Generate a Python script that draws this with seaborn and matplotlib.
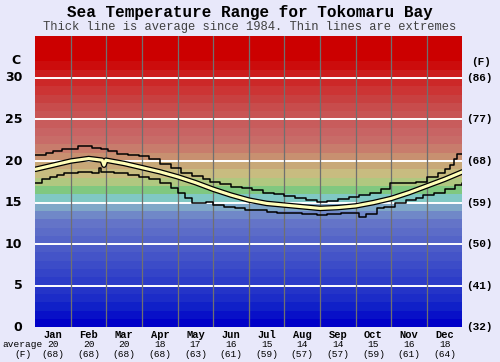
import numpy as np
import pandas as pd
import matplotlib
matplotlib.use("Agg")
import matplotlib.pyplot as plt
import matplotlib.transforms as mtransforms
import seaborn as sns

# ---------------- data ----------------
months = ["Jan", "Feb", "Mar", "Apr", "May", "Jun",
          "Jul", "Aug", "Sep", "Oct", "Nov", "Dec"]
month_avg_c = ["20", "20", "20", "18", "17", "16", "15", "14", "14", "15", "16", "18"]
month_avg_f = ["(68)", "(68)", "(68)", "(68)", "(63)", "(61)",
               "(59)", "(57)", "(57)", "(59)", "(61)", "(64)"]

c_ticks = [0, 5, 10, 15, 20, 25, 30]
f_labels = ["(32)", "(41)", "(50)", "(59)", "(68)", "(77)", "(86)"]

# position in months (0 = 1 Jan, 12 = 31 Dec)
avg_pos = [0.0, 0.5, 1.0, 1.5, 1.88, 1.93, 1.98, 2.5, 3.0, 3.5, 4.0, 4.5, 5.0,
           5.5, 6.0, 6.5, 7.0, 7.5, 8.0, 8.5, 9.0, 9.5, 10.0, 10.5, 11.0, 11.5, 12.0]
avg_temp = [19.0, 19.5, 20.0, 20.3, 20.1, 19.5, 20.1, 19.7, 19.2, 18.7, 18.1, 17.4, 16.6,
            15.9, 15.3, 14.9, 14.7, 14.5, 14.3, 14.4, 14.6, 15.0, 15.5, 16.2, 17.0, 17.8, 18.7]

max_pos = [0.0, 0.3, 0.5, 0.75, 1.2, 1.6, 1.85, 2.05, 2.3, 2.6, 2.9, 3.2, 3.5, 3.8,
           4.1, 4.4, 4.7, 4.9, 5.2, 5.5, 5.8, 6.1, 6.4, 6.7, 7.0, 7.3, 7.6, 7.9,
           8.2, 8.5, 8.8, 9.1, 9.4, 9.7, 9.95, 10.3, 10.7, 11.0, 11.3, 11.5, 11.65,
           11.75, 11.85, 12.0]
max_temp = [20.7, 21.0, 21.2, 21.5, 21.8, 21.6, 21.5, 21.2, 20.9, 20.7, 20.6, 20.2, 19.6, 19.1,
            18.6, 18.2, 17.8, 17.5, 17.2, 16.9, 16.7, 16.5, 16.2, 16.0, 15.8, 15.5, 15.3, 15.1,
            15.2, 15.4, 15.7, 15.9, 16.2, 16.6, 17.3, 17.4, 17.5, 18.1, 18.6, 19.0, 19.5,
            20.3, 20.8, 20.8]

min_pos = [0.0, 0.2, 0.4, 0.6, 0.8, 1.2, 1.6, 1.8, 1.85, 2.2, 2.6, 2.9, 3.2, 3.5, 3.8,
           4.0, 4.2, 4.4, 4.6, 4.8, 5.0, 5.3, 5.6, 5.9, 6.2, 6.5, 6.8, 7.1, 7.5, 7.9,
           8.2, 8.6, 8.9, 9.1, 9.3, 9.6, 9.8, 10.1, 10.4, 10.7, 10.9, 11.2, 11.5, 11.8, 12.0]
min_temp = [17.4, 17.8, 18.1, 18.3, 18.6, 18.7, 18.6, 19.1, 18.7, 18.5, 18.3, 18.1, 17.8, 17.3, 16.7,
            16.2, 15.6, 15.0, 14.9, 15.1, 14.7, 14.5, 14.3, 14.1, 14.1, 13.9, 13.8, 13.7, 13.6, 13.5,
            13.6, 13.7, 13.7, 13.3, 13.6, 14.3, 14.5, 14.9, 15.3, 15.6, 15.9, 16.2, 16.6, 17.1, 17.4]

# ---------------- style ----------------
band_colors = [
    "#0000c8", "#0810c8", "#1020c8", "#1c2cc8", "#2434c8", "#2c3cc8", "#3444c8",
    "#3c4cc8", "#4454c8", "#4c5cc8", "#5464c8", "#5c6cc8", "#6474c8", "#7088c8",
    "#80a8c8", "#80c8c4", "#80c880", "#b0c880", "#c8bc80", "#c8a878", "#c89070",
    "#c87c6c", "#c86c68", "#c86464", "#c85c5c", "#c85454", "#c84c4c", "#c84040",
    "#cc3434", "#cc2828", "#cc1c1c", "#cc0c0c", "#cc0000", "#cc0000", "#cc0000",
]
BG = "#e8e8fa"

sns.set_style("white")
plt.rcParams["font.family"] = ["DejaVu Sans"]

fig = plt.figure(figsize=(5.0, 3.62), dpi=100)
fig.patch.set_facecolor(BG)
W, H = 500.0, 362.0
left, right, top, bottom = 35.3, 462.5, 36.3, 327.3
ax = fig.add_axes([left / W, 1 - bottom / H, (right - left) / W, (bottom - top) / H])

for k, col in enumerate(band_colors):
    ax.axhspan(k, k + 1, color=col, lw=0, zorder=0)

for c in c_ticks[1:]:
    ax.axhline(c, color="white", lw=1.4, zorder=1)
for m in range(1, 12):
    ax.axvline(m, color="#707070", lw=0.9, zorder=1)

df_max = pd.DataFrame({"m": max_pos, "t": max_temp})
df_min = pd.DataFrame({"m": min_pos, "t": min_temp})
df_avg = pd.DataFrame({"m": avg_pos, "t": avg_temp})

sns.lineplot(data=df_max, x="m", y="t", ax=ax, color="black", lw=1.1,
             drawstyle="steps-post", estimator=None, sort=False, zorder=3)
sns.lineplot(data=df_min, x="m", y="t", ax=ax, color="black", lw=1.1,
             drawstyle="steps-post", estimator=None, sort=False, zorder=3)
sns.lineplot(data=df_avg, x="m", y="t", ax=ax, color="black", lw=4.0,
             estimator=None, sort=False, zorder=4)
sns.lineplot(data=df_avg, x="m", y="t", ax=ax, color="#ffffb8", lw=2.2,
             estimator=None, sort=False, zorder=5)

ax.set_xlim(0, 12)
ax.set_ylim(0, 35)
ax.set_xlabel("")
ax.set_ylabel("")
ax.set_xticks([])
ax.set_yticks([])
for s in ax.spines.values():
    s.set_visible(False)

mono = "Liberation Mono"
# titles
fig.text(0.5, 1 - 12.5 / H, "Sea Temperature Range for Tokomaru Bay", ha="center", va="center",
         fontsize=11.5, fontweight="bold", family=mono, color="black")
fig.text(0.5, 1 - 27 / H, "Thick line is average since 1984. Thin lines are extremes",
         ha="center", va="center", fontsize=8.7, family=mono, color="#404040")

# left / right axis labels
trans_l = mtransforms.blended_transform_factory(fig.transFigure, ax.transData)
for c, fl in zip(c_ticks, f_labels):
    fig.text(22.5 / W, c, str(c), transform=trans_l, ha="right", va="center",
             fontsize=9, fontweight="bold", color="black")
    fig.text(466 / W, c, fl, transform=trans_l, ha="left", va="center",
             fontsize=8, fontweight="bold", family=mono, color="black")
fig.text(16 / W, 1 - 61 / H, "C", ha="center", va="center", fontsize=9,
         fontweight="bold", color="black")
fig.text(481 / W, 1 - 62 / H, "(F)", ha="center", va="center", fontsize=8,
         fontweight="bold", family=mono, color="black")

# bottom month labels
trans_b = mtransforms.blended_transform_factory(ax.transData, fig.transFigure)
for i, (mn, ac, af) in enumerate(zip(months, month_avg_c, month_avg_f)):
    x = i + 0.5
    fig.text(x, 1 - 334.5 / H, mn, transform=trans_b, ha="center", va="center",
             fontsize=7.5, fontweight="bold", family=mono, color="black")
    fig.text(x, 1 - 344.5 / H, ac, transform=trans_b, ha="center", va="center",
             fontsize=6.8, family=mono, color="black")
    fig.text(x, 1 - 354.5 / H, af, transform=trans_b, ha="center", va="center",
             fontsize=6.8, family=mono, color="black")
fig.text(22.5 / W, 1 - 344.5 / H, "average", ha="center", va="center",
         fontsize=6.8, family=mono, color="black")
fig.text(22.5 / W, 1 - 354.5 / H, "(F)", ha="center", va="center",
         fontsize=6.8, family=mono, color="black")

fig.savefig("out.png", dpi=100, facecolor=BG)
